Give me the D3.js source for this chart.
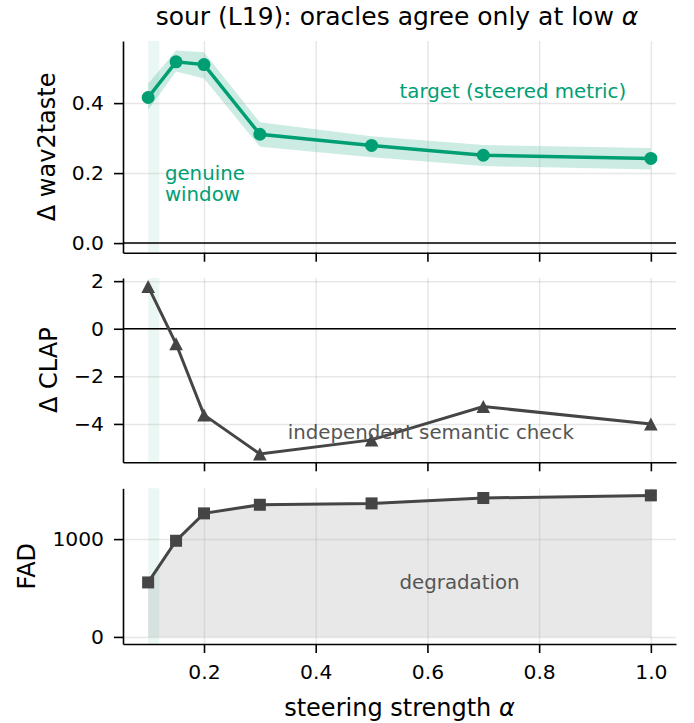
<!DOCTYPE html>
<html>
<head>
<meta charset="utf-8">
<script src="https://cdn.jsdelivr.net/npm/d3@7"></script>
<style>
  body { margin: 0; background: #fff; }
  svg { display: block; font-family: "DejaVu Sans", sans-serif; }
</style>
</head>
<body>
<svg id="chart" width="694" height="723"></svg>
<script>
// values
const alphas = [0.1, 0.15, 0.2, 0.3, 0.5, 0.7, 1.0];
const wav2taste = [0.416, 0.518, 0.51, 0.311, 0.279, 0.251, 0.242];
const wavLo = [0.38, 0.49, 0.47, 0.275, 0.245, 0.22, 0.21];
const wavHi = [0.455, 0.55, 0.545, 0.345, 0.305, 0.28, 0.272];
const clap = [1.78, -0.63, -3.62, -5.26, -4.67, -3.27, -4.0];
const fad = [557, 983, 1263, 1351, 1365, 1420, 1447];
const genuineWindow = [0.1, 0.12];

const xTicks = [0.2, 0.4, 0.6, 0.8, 1.0];
const wavTicks = [0, 0.2, 0.4];
const clapTicks = [-4, -2, 0, 2];
const fadTicks = [0, 1000];

const teal = '#009e73';
const dark = '#454545';

const svg = d3.select('#chart');
const left = 123, right = 676;

// matplotlib-like 5% margins
function pad(ext) {
  const m = (ext[1] - ext[0]) * 0.05;
  return [ext[0] - m, ext[1] + m];
}

const x = d3.scaleLinear().domain(pad(d3.extent(alphas))).range([left, right]);

const panels = [
  { top: 41, bottom: 252.7, label: 'Δ wav2taste',
    y: d3.scaleLinear().domain(pad(d3.extent([0, ...wavLo, ...wavHi]))),
    ticks: wavTicks, fmt: d3.format('.1f') },
  { top: 278, bottom: 462.3, label: 'Δ CLAP',
    y: d3.scaleLinear().domain(pad(d3.extent(clap))),
    ticks: clapTicks, fmt: d3.format('d') },
  { top: 488.3, bottom: 644, label: 'FAD',
    y: d3.scaleLinear().domain(pad(d3.extent([0, ...fad]))),
    ticks: fadTicks, fmt: d3.format('d') }
];

panels.forEach((p, i) => {
  p.y.range([p.bottom, p.top]);
  const g = svg.append('g');
  p.g = g;

  // genuine window span
  g.append('rect')
    .attr('x', x(genuineWindow[0]))
    .attr('width', x(genuineWindow[1]) - x(genuineWindow[0]))
    .attr('y', p.top)
    .attr('height', p.bottom - p.top)
    .attr('fill', teal)
    .attr('fill-opacity', 0.08);

  p.fills = g.append('g');

  // grid
  g.append('g')
    .attr('transform', `translate(0,${p.bottom})`)
    .call(d3.axisBottom(x).tickValues(xTicks).tickSize(-(p.bottom - p.top)).tickFormat(''))
    .call(a => a.select('.domain').remove())
    .selectAll('line').attr('stroke', '#b0b0b0').attr('stroke-opacity', 0.3).attr('stroke-width', 1.5);
  g.append('g')
    .attr('transform', `translate(${left},0)`)
    .call(d3.axisLeft(p.y).tickValues(p.ticks).tickSize(-(right - left)).tickFormat(''))
    .call(a => a.select('.domain').remove())
    .selectAll('line').attr('stroke', '#b0b0b0').attr('stroke-opacity', 0.3).attr('stroke-width', 1.5);

  p.marks = g.append('g');

  // axes
  const ya = g.append('g')
    .attr('transform', `translate(${left},0)`)
    .call(d3.axisLeft(p.y).tickValues(p.ticks).tickFormat(p.fmt).tickSize(9).tickPadding(10).tickSizeOuter(0));
  const xa = g.append('g')
    .attr('transform', `translate(0,${p.bottom})`)
    .call(d3.axisBottom(x).tickValues(xTicks).tickFormat(i === 2 ? d3.format('.1f') : '')
      .tickSize(9).tickPadding(12).tickSizeOuter(0));
  [ya, xa].forEach(a => {
    a.select('.domain').attr('stroke', '#000').attr('stroke-width', 1.6);
    a.selectAll('.tick line').attr('stroke', '#000').attr('stroke-width', 1.6);
    a.selectAll('text').attr('fill', '#000').attr('font-size', 20.3)
      .attr('font-family', '"DejaVu Sans", sans-serif');
  });

  // y label left of tick labels
  let minX = Infinity;
  ya.selectAll('text').each(function () {
    const b = this.getBBox();
    minX = Math.min(minX, b.x + left);
  });
  g.append('text')
    .attr('transform', `translate(${minX - 17},${(p.top + p.bottom) / 2}) rotate(-90)`)
    .attr('text-anchor', 'middle')
    .attr('font-size', 24)
    .text(p.label);
});

// panel 1: wav2taste with band
const p1 = panels[0];
p1.fills.append('path')
  .datum(alphas.map((a, i) => [a, wavLo[i], wavHi[i]]))
  .attr('fill', teal).attr('fill-opacity', 0.2)
  .attr('d', d3.area().x(d => x(d[0])).y0(d => p1.y(d[1])).y1(d => p1.y(d[2])));
p1.marks.append('line')
  .attr('x1', left).attr('x2', right)
  .attr('y1', p1.y(0)).attr('y2', p1.y(0))
  .attr('stroke', '#000').attr('stroke-width', 1.5);
p1.marks.append('path')
  .datum(alphas.map((a, i) => [a, wav2taste[i]]))
  .attr('fill', 'none').attr('stroke', teal).attr('stroke-width', 3.5)
  .attr('d', d3.line().x(d => x(d[0])).y(d => p1.y(d[1])));
p1.marks.selectAll('circle')
  .data(alphas.map((a, i) => [a, wav2taste[i]]))
  .join('circle')
  .attr('cx', d => x(d[0])).attr('cy', d => p1.y(d[1]))
  .attr('r', 6.5).attr('fill', teal);
p1.marks.append('text')
  .attr('x', x(0.55)).attr('y', p1.y(0.435)).attr('dy', '0.35em')
  .attr('fill', teal).attr('font-size', 19.8)
  .text('target (steered metric)');
const gw = p1.marks.append('text')
  .attr('x', x(0.13)).attr('y', p1.y(0.18))
  .attr('fill', teal).attr('font-size', 19.8);
gw.append('tspan').attr('x', x(0.13)).text('genuine');
gw.append('tspan').attr('x', x(0.13)).attr('dy', 21).text('window');

// panel 2: CLAP
const p2 = panels[1];
p2.marks.append('line')
  .attr('x1', left).attr('x2', right)
  .attr('y1', p2.y(0)).attr('y2', p2.y(0))
  .attr('stroke', '#000').attr('stroke-width', 1.5);
p2.marks.append('path')
  .datum(alphas.map((a, i) => [a, clap[i]]))
  .attr('fill', 'none').attr('stroke', dark).attr('stroke-width', 3)
  .attr('d', d3.line().x(d => x(d[0])).y(d => p2.y(d[1])));
p2.marks.selectAll('path.tri')
  .data(alphas.map((a, i) => [a, clap[i]]))
  .join('path')
  .attr('class', 'tri')
  .attr('transform', d => `translate(${x(d[0])},${p2.y(d[1])})`)
  .attr('d', 'M0,-6.5L6.8,6.5L-6.8,6.5Z')
  .attr('fill', dark);
p2.marks.append('text')
  .attr('x', x(0.35)).attr('y', p2.y(-4.35)).attr('dy', '0.35em')
  .attr('fill', '#555').attr('font-size', 19.8)
  .text('independent semantic check');

// panel 3: FAD
const p3 = panels[2];
p3.fills.append('path')
  .datum(alphas.map((a, i) => [a, fad[i]]))
  .attr('fill', 'gray').attr('fill-opacity', 0.18)
  .attr('d', d3.area().x(d => x(d[0])).y0(p3.y(0)).y1(d => p3.y(d[1])));
p3.marks.append('path')
  .datum(alphas.map((a, i) => [a, fad[i]]))
  .attr('fill', 'none').attr('stroke', dark).attr('stroke-width', 3)
  .attr('d', d3.line().x(d => x(d[0])).y(d => p3.y(d[1])));
p3.marks.selectAll('rect')
  .data(alphas.map((a, i) => [a, fad[i]]))
  .join('rect')
  .attr('x', d => x(d[0]) - 6).attr('y', d => p3.y(d[1]) - 6)
  .attr('width', 12).attr('height', 12)
  .attr('fill', dark);
p3.marks.append('text')
  .attr('x', x(0.55)).attr('y', p3.y(560)).attr('dy', '0.35em')
  .attr('fill', '#555').attr('font-size', 19.8)
  .text('degradation');

// x label and title
svg.append('text')
  .attr('x', (left + right) / 2).attr('y', 716)
  .attr('text-anchor', 'middle').attr('font-size', 24)
  .call(t => {
    t.append('tspan').text('steering strength ');
    t.append('tspan').attr('font-style', 'italic').text('α');
  });
svg.append('text')
  .attr('x', 397).attr('y', 25)
  .attr('text-anchor', 'middle').attr('font-size', 25)
  .call(t => {
    t.append('tspan').text('sour (L19): oracles agree only at low ');
    t.append('tspan').attr('font-style', 'italic').text('α');
  });
</script>
</body>
</html>
